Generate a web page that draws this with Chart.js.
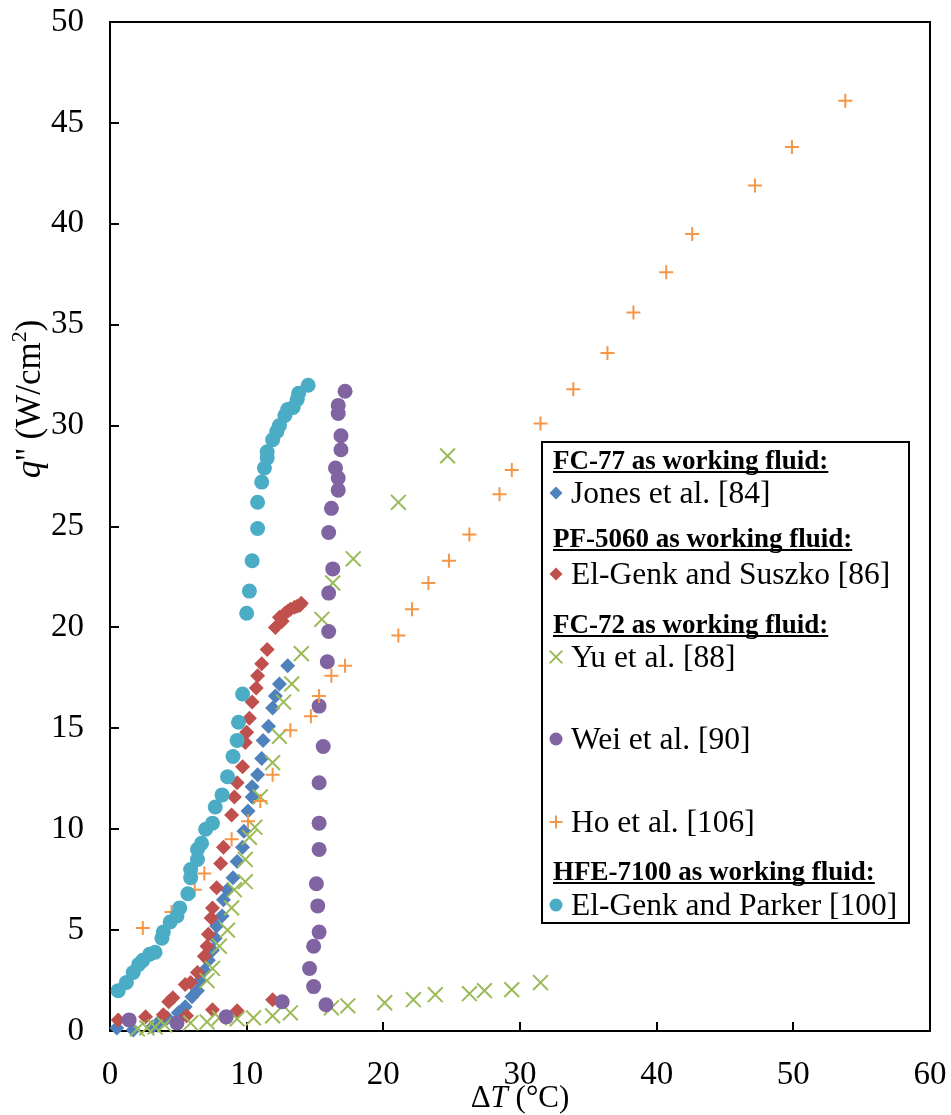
<!DOCTYPE html>
<html>
<head>
<meta charset="utf-8">
<script src="https://cdn.jsdelivr.net/npm/chart.js@4.4.1/dist/chart.umd.min.js"></script>
<style>
  html, body { margin: 0; padding: 0; background: #fff; }
  #wrap { width: 951px; height: 1115px; }
</style>
</head>
<body>
<div id="wrap"><canvas id="c" width="951" height="1115"></canvas></div>
<script>
// axis ticks
const xTicks = [0, 10, 20, 30, 40, 50, 60];
const yTicks = [0, 5, 10, 15, 20, 25, 30, 35, 40, 45, 50];

// legend text
const fluidHeads = ['FC-77 as working fluid:', 'PF-5060 as working fluid:', 'FC-72 as working fluid:', 'HFE-7100 as working fluid:'];
const seriesNames = ['Jones et al. [84]', 'El-Genk and Suszko [86]', 'Yu et al. [88]', 'Wei et al. [90]', 'Ho et al. [106]', 'El-Genk and Parker [100]'];

// [dT (°C), q'' (W/cm2)]
const jones = [[0.5,0.15],[1.7,0.05],[3.1,0.2],[3.5,0.4],[4.2,0.65],[5.0,0.9],[5.5,1.2],[6.0,1.7],[6.4,2.0],[6.6,2.5],
  [6.9,3.0],[7.2,3.5],[7.5,4.0],[7.7,4.6],[7.8,5.2],[8.2,5.7],[8.3,6.5],[8.6,7.0],[9.0,7.6],[9.3,8.4],[9.7,9.1],
  [9.8,9.9],[10.1,10.9],[10.4,11.6],[10.4,12.1],[10.8,12.7],[11.1,13.5],[11.2,14.4],[11.6,15.1],[11.9,16.0],
  [12.1,16.6],[12.4,17.2],[13.0,18.1]];

const suszko = [[0.6,0.55],[2.6,0.7],[3.9,0.8],[5.6,0.75],[7.5,1.05],[9.3,1.0],[11.9,1.55],[4.3,1.45],[4.6,1.65],
  [5.5,2.3],[5.9,2.4],[6.4,2.9],[6.9,3.7],[7.1,4.2],[7.2,4.8],[7.4,5.6],[7.5,6.1],[7.8,7.1],[8.1,8.3],[8.3,9.1],
  [8.9,10.7],[9.1,11.6],[9.3,12.3],[9.7,13.1],[9.9,14.3],[10.0,14.8],[10.2,15.5],[10.4,16.3],[10.7,17.0],
  [10.8,17.6],[11.1,18.2],[11.5,18.9],[12.1,20.0],[12.4,20.5],[12.6,20.3],[12.8,20.7],[13.0,20.8],[13.2,20.9],
  [13.5,21.0],[13.7,21.05],[13.9,21.1],[14.0,21.2]];

const yu = [[2.0,0.1],[2.7,0.15],[3.3,0.2],[4.0,0.3],[5.9,0.4],[7.1,0.45],[8.0,0.65],[9.3,0.6],[10.5,0.65],
  [11.9,0.75],[13.2,0.9],[16.2,1.15],[17.4,1.25],[20.1,1.4],[22.2,1.55],[23.8,1.8],[26.3,1.85],[27.4,2.0],
  [29.4,2.05],[31.5,2.4],
  [7.1,2.5],[7.5,3.1],[8.0,4.2],[8.6,5.0],[8.9,6.1],[9.1,7.0],[9.9,7.4],[9.9,8.5],[10.2,9.6],[10.6,10.1],
  [11.0,11.6],[11.9,13.3],[12.4,14.6],[12.7,16.3],[13.3,17.2],[14.0,18.7],[15.5,20.4],[16.3,22.2],[17.8,23.4],
  [21.1,26.2],[24.7,28.5]];

const wei = [[1.4,0.55],[4.9,0.4],[8.5,0.7],[12.6,1.45],[15.8,1.3],[14.9,2.2],[14.6,3.1],[14.9,4.2],[15.3,4.9],
  [15.2,6.2],[15.1,7.3],[15.3,9.0],[15.3,10.3],[15.3,12.3],[15.6,14.1],[15.3,16.1],[15.9,18.3],[16.0,19.8],
  [16.0,21.7],[16.3,22.9],[16.0,24.7],[16.2,25.9],[16.7,26.8],[16.7,27.4],[16.5,27.9],[16.9,28.8],[16.9,29.5],
  [16.7,30.6],[16.7,31.0],[17.2,31.7]];

const ho = [[2.4,5.1],[4.5,5.9],[6.2,7.0],[6.9,7.8],[8.9,9.5],[10.1,10.4],[11.0,11.4],[11.9,12.7],[13.2,14.9],
  [14.7,15.6],[15.3,16.6],[16.2,17.6],[17.2,18.1],[21.1,19.6],[22.1,20.9],[23.3,22.2],[24.8,23.3],[26.3,24.6],
  [28.5,26.6],[29.4,27.8],[31.5,30.1],[33.9,31.8],[36.4,33.6],[38.3,35.6],[40.7,37.6],[42.6,39.5],[47.2,41.9],
  [49.9,43.8],[53.8,46.1]];

const parker = [[0.6,2.0],[1.2,2.4],[1.7,2.9],[2.1,3.3],[2.4,3.5],[2.9,3.8],[3.3,3.9],[3.8,4.6],[3.9,4.9],[4.4,5.4],
  [4.9,5.7],[5.1,6.1],[5.7,6.8],[5.9,7.6],[5.9,8.0],[6.4,8.5],[6.4,9.0],[6.7,9.3],[7.0,10.0],[7.5,10.3],[7.7,11.1],
  [8.2,11.7],[8.6,12.6],[9.0,13.6],[9.3,14.4],[9.4,15.3],[9.7,16.7],[10.0,20.7],[10.2,21.8],[10.4,23.3],
  [10.8,24.9],[10.8,26.2],[11.1,27.2],[11.3,27.9],[11.5,28.4],[11.5,28.7],[11.9,29.3],[12.2,29.7],[12.4,30.0],
  [12.8,30.5],[13.0,30.8],[13.4,30.9],[13.7,31.3],[13.8,31.6],[14.5,32.0]];

const FONT = "'Liberation Serif', 'Times New Roman', serif";
const toXY = arr => arr.map(p => ({ x: p[0], y: p[1] }));

// marker style per series (Excel 2010 colours)
const styles = [
  { color: '#4F81BD', pointStyle: 'rectRot', radius: 7.5, borderWidth: 0 },
  { color: '#C0504D', pointStyle: 'rectRot', radius: 7.5, borderWidth: 0 },
  { color: '#9BBB59', pointStyle: 'crossRot', radius: 10.5, borderWidth: 2 },
  { color: '#8064A2', pointStyle: 'circle', radius: 7.5, borderWidth: 0 },
  { color: '#F79646', pointStyle: 'cross', radius: 7, borderWidth: 2 },
  { color: '#4BACC6', pointStyle: 'circle', radius: 7.5, borderWidth: 0 },
];
const allSeries = [jones, suszko, yu, wei, ho, parker];

const datasets = allSeries.map((s, i) => ({
  label: seriesNames[i],
  data: toXY(s),
  pointStyle: styles[i].pointStyle,
  pointRadius: styles[i].radius,
  pointBackgroundColor: styles[i].color,
  pointBorderColor: styles[i].color,
  pointBorderWidth: styles[i].borderWidth,
  showLine: false,
  clip: false,
  order: 5 - i, // last series on top, like Excel
}));

// frame box + inward tick marks
const framePlugin = {
  id: 'frame',
  beforeDatasetsDraw(chart) {
    const { ctx, chartArea: a, scales: { x, y } } = chart;
    ctx.save();
    ctx.strokeStyle = '#000';
    ctx.lineWidth = 2;
    ctx.strokeRect(a.left, a.top, a.right - a.left, a.bottom - a.top);
    ctx.beginPath();
    xTicks.forEach(v => {
      const px = Math.round(x.getPixelForValue(v));
      ctx.moveTo(px, a.bottom); ctx.lineTo(px, a.bottom - 9);
    });
    yTicks.forEach(v => {
      const py = Math.round(y.getPixelForValue(v));
      ctx.moveTo(a.left, py); ctx.lineTo(a.left + 9, py);
    });
    ctx.stroke();
    ctx.restore();
  }
};

// axis titles with italic symbols
function drawRuns(ctx, runs, cx, cy) {
  let w = 0;
  runs.forEach(r => { ctx.font = r.font; w += ctx.measureText(r.t).width; });
  let x = cx - w / 2;
  runs.forEach(r => {
    ctx.font = r.font;
    ctx.fillText(r.t, x, cy + (r.dy || 0));
    x += ctx.measureText(r.t).width;
  });
}

const titlePlugin = {
  id: 'titles',
  afterDraw(chart) {
    const ctx = chart.ctx;
    ctx.save();
    ctx.fillStyle = '#000';
    ctx.textBaseline = 'alphabetic';
    drawRuns(ctx, [
      { t: '\u0394', font: '31px ' + FONT },
      { t: 'T', font: 'italic 31px ' + FONT },
      { t: ' (\u00B0C)', font: '31px ' + FONT },
    ], 520, 1107);
    ctx.translate(40, 399);
    ctx.rotate(-Math.PI / 2);
    drawRuns(ctx, [
      { t: 'q', font: 'italic 35px ' + FONT },
      { t: "'' (W/cm", font: '35px ' + FONT },
      { t: '2', font: '22px ' + FONT, dy: -14 },
      { t: ')', font: '35px ' + FONT },
    ], 0, 0);
    ctx.restore();
  }
};

// boxed legend with fluid headings
const legendPlugin = {
  id: 'boxLegend',
  afterDraw(chart) {
    const ctx = chart.ctx;
    ctx.save();
    ctx.fillStyle = '#fff';
    ctx.fillRect(542, 442, 367, 481);
    ctx.strokeStyle = '#000';
    ctx.lineWidth = 2;
    ctx.strokeRect(542, 442, 367, 481);
    ctx.fillStyle = '#000';
    ctx.textBaseline = 'alphabetic';
    const heads = [[fluidHeads[0], 469], [fluidHeads[1], 547], [fluidHeads[2], 633], [fluidHeads[3], 880]];
    ctx.font = 'bold 27px ' + FONT;
    heads.forEach(([t, by]) => {
      ctx.fillText(t, 553, by);
      const w = ctx.measureText(t).width;
      ctx.fillRect(553, by + 2, w, 2);
    });
    const rows = [503, 584, 667, 749, 832, 915];
    ctx.font = '31.5px ' + FONT;
    rows.forEach((by, i) => {
      const st = styles[i];
      ctx.fillStyle = st.color;
      ctx.strokeStyle = st.color;
      ctx.lineWidth = st.borderWidth || 1;
      const r = st.pointStyle === 'crossRot' ? 9 : 6.5;
      Chart.helpers.drawPoint(ctx, { pointStyle: st.pointStyle, radius: r, rotation: 0, borderWidth: st.borderWidth }, 556, by - 10);
      ctx.fillStyle = '#000';
      ctx.fillText(seriesNames[i], 571, by);
    });
    ctx.restore();
  }
};

// keep the plot area where the reference has it
function noPad(s) {
  s.paddingTop = 0; s.paddingBottom = 0; s.paddingLeft = 0; s.paddingRight = 0;
}

new Chart(document.getElementById('c'), {
  type: 'scatter',
  data: { datasets },
  options: {
    responsive: false,
    animation: false,
    devicePixelRatio: 1,
    layout: { padding: { left: 0, top: 22, right: 21, bottom: 0 } },
    plugins: { legend: { display: false }, tooltip: { enabled: false } },
    scales: {
      x: {
        type: 'linear', min: 0, max: 60,
        afterFit: s => { s.height = 84; noPad(s); },
        afterBuildTicks: s => { s.ticks = xTicks.map(v => ({ value: v })); },
        grid: { display: false, drawTicks: false },
        border: { display: false },
        ticks: { color: '#000', padding: 25, font: { family: FONT, size: 33 } },
      },
      y: {
        type: 'linear', min: 0, max: 50,
        afterFit: s => { s.width = 110; noPad(s); },
        afterBuildTicks: s => { s.ticks = yTicks.map(v => ({ value: v })); },
        grid: { display: false, drawTicks: false },
        border: { display: false },
        ticks: { color: '#000', padding: 26, font: { family: FONT, size: 33 } },
      },
    },
  },
  plugins: [framePlugin, titlePlugin, legendPlugin],
});
</script>
</body>
</html>
